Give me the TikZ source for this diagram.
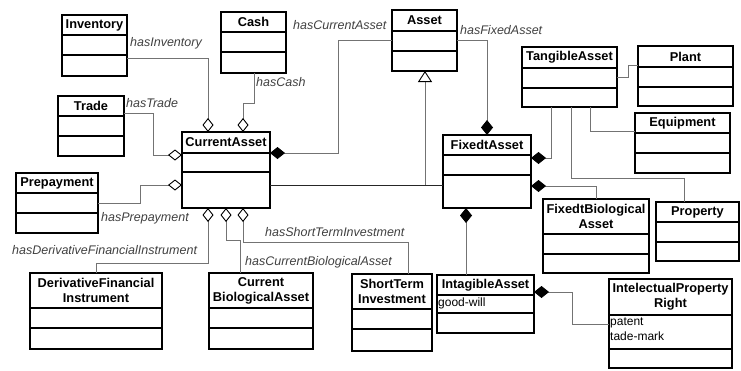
\documentclass[tikz,border=0pt]{standalone}
\usepackage{fontspec}
\setmainfont{Liberation Sans}
\usepackage{tikz}
\usetikzlibrary{arrows.meta, calc}

% class box: name, x, y, width, height, first rule, second rule, title
\newcommand{\umlclass}[8]{%
        \node[classbox, minimum width=#4pt, minimum height=#5pt] (#1) at (#2,#3) {};
        \draw[classline] ($(#1.north west)+(0,#6)$) -- ($(#1.north east)+(0,#6)$);
        \draw[classline] ($(#1.north west)+(0,#7)$) -- ($(#1.north east)+(0,#7)$);
        \node[classtitle] (#1-title) at ($(#1.north)+(0,#6/2)$) {#8};
}

\begin{document}
\begin{tikzpicture}[x=1pt, y=-1pt,
        classbox/.style={draw, line width=1.4pt, anchor=north west, inner sep=0pt, outer sep=0pt},
        classline/.style={line width=1.1pt},
        classtitle/.style={font=\fontsize{12.8}{15}\selectfont\bfseries, align=center, inner sep=0pt},
        attrtext/.style={font=\fontsize{12}{14.5}\selectfont, align=left, anchor=north west, inner sep=1pt},
        rolename/.style={font=\fontsize{12.5}{15}\selectfont\itshape, text=black!75, anchor=west, inner sep=0pt},
        link/.style={draw=black!55, line width=0.9pt},
        agg/.style={link, -{Diamond[open, color=black, length=14pt, width=11pt, line width=0.9pt]}},
        comp/.style={link, -{Diamond[fill=black, color=black, length=15pt, width=12pt]}},
        gen/.style={link, -{Triangle[open, color=black, length=11pt, width=14pt, line width=0.9pt]}}]
        \useasboundingbox (0,0) rectangle (741,370);

        \umlclass{inv}{62}{15}{65}{61}{20}{40}{Inventory}
        \umlclass{cash}{221}{12}{65}{61}{20}{40}{Cash}
        \umlclass{asset}{392}{10}{65}{61}{21}{41}{Asset}
        \umlclass{trade}{58}{96}{66}{60}{20}{40}{Trade}
        \umlclass{cur}{182}{132}{88}{76}{21}{40}{CurrentAsset}
        \umlclass{prep}{16}{173}{82}{60}{20}{40}{Prepayment}
        \umlclass{fix}{443}{135}{88}{73}{20}{40}{FixedtAsset}
        \umlclass{tang}{522}{47}{95}{60}{21}{41}{TangibleAsset}
        \umlclass{plant}{638}{46}{95}{60}{21}{41}{Plant}
        \umlclass{equip}{635}{113}{95}{60}{20}{40}{Equipment}
        \umlclass{fba}{543}{199}{106}{74}{35}{55}{FixedtBiological\\Asset}
        \umlclass{prop}{656}{202}{83}{59}{20}{40}{Property}
        \umlclass{intg}{437}{275}{97}{58}{20}{38}{IntagibleAsset}
        \umlclass{ipr}{609}{279}{123}{89}{36}{70}{IntelectualProperty\\Right}
        \umlclass{dfi}{30}{273}{132}{76}{35}{55}{DerivativeFinancial\\Instrument}
        \umlclass{cba}{209}{273}{104}{76}{35}{55}{Current\\BiologicalAsset}
        \umlclass{sti}{352}{274}{80}{77}{35}{55}{ShortTerm\\Investment}

        \node[attrtext] (intg-attr) at ($(intg.north west)+(0,22)$) {good-will};
        \node[attrtext] (ipr-attr) at ($(ipr.north west)+(0,38)$) {patent\\tade-mark};

        % parts of CurrentAsset
        \draw[agg] (inv.east |- 0,58) -| (cur.north -| 208,0);
        \draw[agg] (cash.south -| 254,0) |- (243,103) -- (cur.north -| 243,0);
        \draw[agg] (trade.east |- 0,113) -| (153,155) -- (cur.west |- 0,155);
        \draw[agg] (prep.east |- 0,203) -| (140,185) -- (cur.west |- 0,185);
        \draw[agg] (dfi.north -| 96,0) |- (208,263) -- (cur.south -| 208,0);
        \draw[agg] (cba.north -| 240,0) |- (226,240) -- (cur.south -| 226,0);
        \draw[agg] (sti.north -| 408,0) |- (243,242) -- (cur.south -| 243,0);

        \node[rolename] (r-inv) at (130,43) {hasInventory};
        \node[rolename] (r-cash) at (256,82) {hasCash};
        \node[rolename] (r-trade) at (126,103) {hasTrade};
        \node[rolename] (r-prep) at (101,218) {hasPrepayment};
        \node[rolename] (r-dfi) at (12,250) {hasDerivativeFinancialInstrument};
        \node[rolename] (r-cba) at (245,262) {hasCurrentBiologicalAsset};
        \node[rolename] (r-sti) at (265,232) {hasShortTermInvestment};

        % Asset and its kinds
        \draw[comp] (asset.west |- 0,40) -| (338,153) -- (cur.east |- 0,153);
        \draw[comp] (asset.east |- 0,40) -| (fix.north -| 487,0);
        \node[rolename] (r-cur) at (293,25) {hasCurrentAsset};
        \node[rolename] (r-fix) at (460,30) {hasFixedAsset};

        \coordinate (join) at (425,185);
        \draw[link, draw=black!85] (cur.east |- join) -- (fix.west |- join);
        \draw[gen] (join) -- (asset.south -| join);

        % FixedtAsset parts
        \draw[comp] (tang.south -| 551,0) |- (fix.east |- 0,158);
        \draw[link] (tang.east |- 0,77) -| (628,65) -- (plant.west |- 0,65);
        \draw[link] (tang.south -| 590,0) |- (equip.west |- 0,131);
        \draw[link] (tang.south -| 571,0) |- (684,178) -- (prop.north -| 684,0);
        \draw[comp] (fba.north -| 596,0) |- (fix.east |- 0,186);
        \draw[comp] (intg.north -| 466,0) -- (fix.south -| 466,0);
        \draw[comp] (ipr.west |- 0,324) -| (572,292) -- (intg.east |- 0,292);
\end{tikzpicture}
\end{document}
